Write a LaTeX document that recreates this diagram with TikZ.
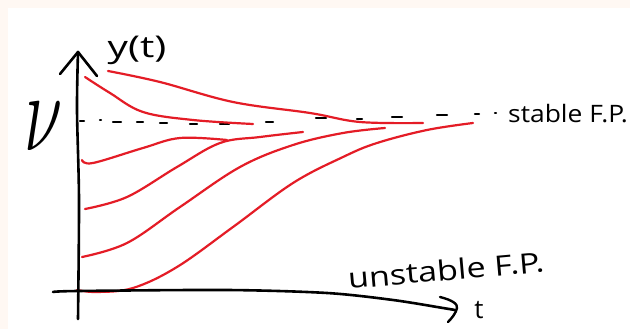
\documentclass[tikz,border=0pt]{standalone}
\usepackage{fontspec}
\setmainfont{Open Sans}
\usepackage{graphicx}
\definecolor{penred}{RGB}{228,28,38}
\definecolor{paper}{RGB}{255,248,243}
\begin{document}
\begin{tikzpicture}[x=1pt,y=-1pt,
  axisline/.style={line width=2.6pt,black,line cap=round,line join=round},
  curve/.style={line width=2.2pt,penred,line cap=round},
  dashmark/.style={line width=2.4pt,black,line cap=round},
  hand/.style={inner sep=0pt,black}]
\useasboundingbox (0,0) rectangle (630,329);
\fill[paper] (0,0) rectangle (630,8);
\fill[paper] (0,0) rectangle (8,329);
\fill[white] (8,8) rectangle (630,329);

% dashed stable fixed point line
\foreach \a/\b/\y in {80/84/121, 100/101/120, 113/121/122, 137/143/122, 160/167/123, 190/197/124, 220/229/124, 266/273/122, 316/326/118, 357/362/119, 392/402/117, 437/447/115, 475/479/114, 495/496/113}
  \draw[dashmark] (\a,\y) -- (\b,\y);

% red trajectories
\draw[curve] plot[smooth,tension=0.6] coordinates {(108,71) (160,82) (233,102) (310,113) (360,122) (423,123)};
\draw[curve] plot[smooth,tension=0.6] coordinates {(85,77) (110,93) (143,112) (193,120) (253,124)};
\draw[curve] plot[smooth,tension=0.6] coordinates {(82,160) (93,163) (143,148) (180,138) (227,140)};
\draw[curve] plot[smooth,tension=0.6] coordinates {(85,209) (127,197) (177,167) (220,143) (260,137) (303,132)};
\draw[curve] plot[smooth,tension=0.6] coordinates {(82,257) (127,243) (180,207) (240,167) (293,145) (343,133) (385,128)};
\draw[curve] plot[smooth,tension=0.6] coordinates {(77,290) (97,292) (133,288) (177,267) (233,227) (293,183) (343,157) (377,143) (427,130) (473,123)};

% axes
\coordinate (ybot) at (78,319);
\coordinate (ytop) at (78,52);
\coordinate (xleft) at (53,292);
\coordinate (xtip) at (455,310);
\draw[axisline] plot[smooth] coordinates {(ybot) (79,200) (77,110) (ytop)};
\draw[axisline] (60,74) -- (ytop) -- (97,76);
\draw[axisline] plot[smooth,tension=0.5] coordinates {(xleft) (78,291) (227,290) (327,293) (393,300) (443,308) (xtip)};
\draw[axisline,line width=2.4pt] (440,297) .. controls (452,300) and (458,304) .. (457,308) .. controls (456,313) and (452,318) .. (448,322);

% labels
\node[hand,font=\fontsize{30}{30}\selectfont] (ylab) at (137,50) {\scalebox{1.35}[1]{y(t)}};
\node[hand,font=\fontsize{26}{26}\selectfont] (tlab) at (479,310) {t};
\node[hand] (nulab) at (44,126) {\scalebox{2.8}[4.5]{\Huge$\nu$}};
\node[hand,font=\fontsize{24}{24}\selectfont,anchor=base west] (stab) at (508,122) {\scalebox{1.1}[1]{stable F.P.}};
\node[hand,font=\fontsize{28}{28}\selectfont,rotate=5] (unstab) at (446,270) {\scalebox{1.22}[1]{unstable F.P.}};
\end{tikzpicture}
\end{document}
